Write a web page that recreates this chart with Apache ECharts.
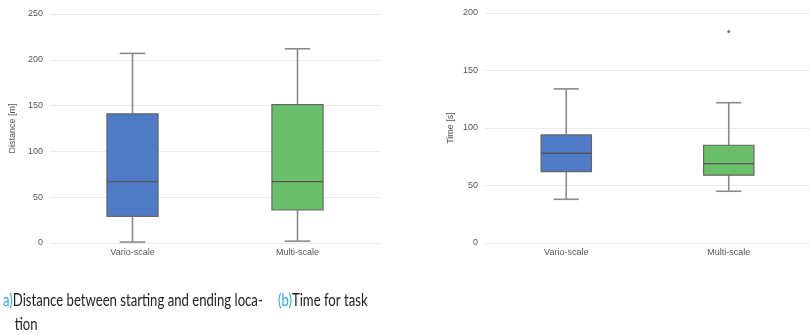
<!DOCTYPE html>
<html>
<head>
<meta charset="utf-8">
<script src="https://cdn.jsdelivr.net/npm/echarts@6/dist/echarts.min.js"></script>
<style>
html,body{margin:0;padding:0;background:#fff;}
#chart{width:810px;height:335px;}
</style>
</head>
<body>
<div id="chart"></div>
<script>
var categories = ['Vario-scale', 'Multi-scale'];
// [min, Q1, median, Q3, max]
var distanceVario = [1, 29, 67, 141, 207];
var distanceMulti = [2, 36, 67, 151, 212];
var timeVario = [38, 62, 78, 94, 134];
var timeMulti = [45, 59, 69, 85, 122];
var timeOutliers = [[1, 184]];
var distanceTicks = [0, 250, 50];
var timeTicks = [0, 200, 50];

var boxColors = ['#4f7bc6', '#6cbf6a'];
var capFont = 'Lato';
var axisFont = 'Liberation Sans';

function boxRows(a, b){
	return [[0].concat(a), [1].concat(b)];
}

//箱线图绘制
function renderBox(params, api){
	var idx = api.value(0);
	var x = api.coord([idx, 0])[0];
	var bw = api.size([1, 0])[0] * 0.31;
	var cw = bw / 2;
	var yMin = api.coord([idx, api.value(1)])[1];
	var yQ1 = api.coord([idx, api.value(2)])[1];
	var yMed = api.coord([idx, api.value(3)])[1];
	var yQ3 = api.coord([idx, api.value(4)])[1];
	var yMax = api.coord([idx, api.value(5)])[1];
	var whisker = {stroke: '#8a8a8a', lineWidth: 1.6};
	return {
		type: 'group',
		children: [
			{type: 'line', shape: {x1: x, y1: yQ3, x2: x, y2: yMax}, style: whisker},
			{type: 'line', shape: {x1: x, y1: yQ1, x2: x, y2: yMin}, style: whisker},
			{type: 'line', shape: {x1: x - cw / 2, y1: yMax, x2: x + cw / 2, y2: yMax}, style: whisker},
			{type: 'line', shape: {x1: x - cw / 2, y1: yMin, x2: x + cw / 2, y2: yMin}, style: whisker},
			{type: 'rect', shape: {x: x - bw / 2, y: yQ3, width: bw, height: yQ1 - yQ3},
				style: {fill: boxColors[idx], stroke: '#666', lineWidth: 1.2}},
			{type: 'line', shape: {x1: x - bw / 2, y1: yMed, x2: x + bw / 2, y2: yMed},
				style: {stroke: '#555', lineWidth: 1.4}}
		]
	};
}

function yAxisOpt(grid, name, ticks, gap){
	return {
		type: 'value', gridIndex: grid, min: ticks[0], max: ticks[1], interval: ticks[2],
		name: name, nameLocation: 'middle', nameGap: gap, nameRotate: 90,
		nameTextStyle: {color: '#555', fontSize: 9, fontFamily: axisFont},
		axisLine: {show: false}, axisTick: {show: false},
		axisLabel: {color: '#555', fontSize: 9, margin: 7, fontFamily: axisFont},
		splitLine: {lineStyle: {color: '#ebebeb', width: 1}}
	};
}

function xAxisOpt(grid){
	return {
		type: 'category', gridIndex: grid, data: categories,
		axisLine: {show: false}, axisTick: {show: false}, splitLine: {show: false},
		axisLabel: {color: '#555', fontSize: 9, margin: 5, fontFamily: axisFont}
	};
}

function capRich(){
	return {
		c: {fill: '#2aa9e0', fontSize: 18, fontFamily: capFont, lineHeight: 24},
		t: {fill: '#222', fontSize: 18, fontFamily: capFont, lineHeight: 24},
		s: {width: 16}
	};
}

//图注文字，横向压缩以接近原图的窄体字
function caption(x, txt){
	return {
		type: 'text', x: x, y: 288, scaleX: 0.73,
		style: {text: txt, rich: capRich(), fontFamily: capFont, fontSize: 18}
	};
}

var chart = echarts.init(document.getElementById('chart'));
var option = {
	animation: false,
	backgroundColor: '#fff',
	textStyle: {fontFamily: axisFont},
	graphic: [
		caption(3, '{c|a)}{t|Distance between starting and ending loca-}\n{s|}{t|tion}'),
		caption(278, '{c|(b)}{t|Time for task}')
	],
	grid: [
		{left: 50, right: 430, top: 14, bottom: 92},
		{left: 485, right: -9, top: 13, bottom: 92}
	],
	xAxis: [xAxisOpt(0), xAxisOpt(1)],
	yAxis: [
		yAxisOpt(0, 'Distance [m]', distanceTicks, 33),
		yAxisOpt(1, 'Time [s]', timeTicks, 30)
	],
	series: [{
		type: 'custom', xAxisIndex: 0, yAxisIndex: 0,
		renderItem: renderBox, data: boxRows(distanceVario, distanceMulti)
	}, {
		type: 'custom', xAxisIndex: 1, yAxisIndex: 1,
		renderItem: renderBox, data: boxRows(timeVario, timeMulti)
	}, {
		type: 'scatter', xAxisIndex: 1, yAxisIndex: 1,
		symbolSize: 3, itemStyle: {color: '#555'},
		data: timeOutliers
	}]
};
chart.setOption(option);
</script>
</body>
</html>
